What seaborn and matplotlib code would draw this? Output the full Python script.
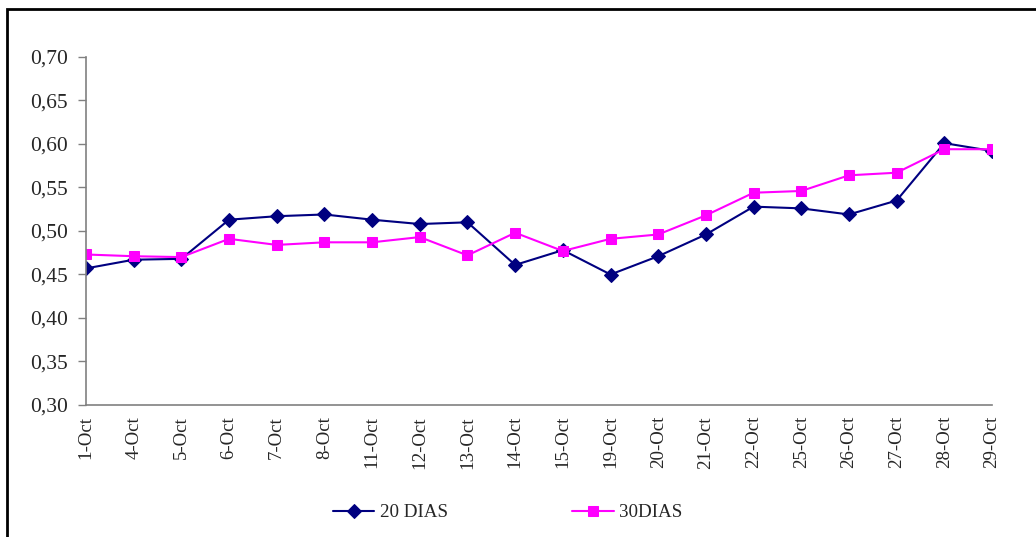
"""Line chart: 20 vs 30 day series, October."""

import matplotlib.pyplot as plt
import pandas as pd
import seaborn as sns
from matplotlib.patches import Rectangle
from matplotlib.ticker import FuncFormatter, MultipleLocator

dates = ["1-Oct", "4-Oct", "5-Oct", "6-Oct", "7-Oct", "8-Oct", "11-Oct", "12-Oct",
         "13-Oct", "14-Oct", "15-Oct", "19-Oct", "20-Oct", "21-Oct", "22-Oct",
         "25-Oct", "26-Oct", "27-Oct", "28-Oct", "29-Oct"]
dias_20 = [0.457, 0.467, 0.468, 0.513, 0.517, 0.519, 0.513, 0.508, 0.510, 0.461,
           0.478, 0.450, 0.471, 0.496, 0.528, 0.526, 0.519, 0.535, 0.601, 0.592]
dias_30 = [0.473, 0.471, 0.470, 0.491, 0.484, 0.487, 0.487, 0.493, 0.472, 0.498,
           0.477, 0.491, 0.496, 0.518, 0.544, 0.546, 0.564, 0.567, 0.594, 0.594]

df = pd.DataFrame({"fecha": dates, "20 DIAS": dias_20, "30DIAS": dias_30})
df["pos"] = range(len(df))

sns.set_theme(style="white")
plt.rcParams["font.family"] = ["Liberation Serif", "DejaVu Serif"]

fig = plt.figure(figsize=(10.36, 5.37), dpi=100)
ax = fig.add_axes([86 / 1036, 1 - 405 / 537, (992 - 86) / 1036, (405 - 57) / 537])

sns.lineplot(data=df, x="pos", y="20 DIAS", ax=ax, color="#000080", marker="D",
             markersize=7, markeredgecolor="#000080", linewidth=1.5, label="20 DIAS")
sns.lineplot(data=df, x="pos", y="30DIAS", ax=ax, color="#FF00FF", marker="s",
             markersize=7, markeredgecolor="#FF00FF", linewidth=1.5, label="30DIAS")

ax.set_xlim(0, len(dates) - 1)
ax.set_ylim(0.30, 0.70)
ax.yaxis.set_major_locator(MultipleLocator(0.05))
ax.yaxis.set_major_formatter(FuncFormatter(lambda v, _: f"{v:.2f}".replace(".", ",")))
ax.set_xticks(df["pos"])
ax.set_xticklabels(dates, rotation=90)
ax.set_xlabel("")
ax.set_ylabel("")

for side in ["top", "right"]:
    ax.spines[side].set_visible(False)
for side in ["left", "bottom"]:
    ax.spines[side].set_color("#808080")
    ax.spines[side].set_linewidth(1.2)

ax.tick_params(axis="y", which="major", direction="out", length=6, width=1,
               color="#808080", labelsize=15.5, pad=7, left=True)
ax.tick_params(axis="x", length=0, labelsize=13.6, pad=8)

handles, labels = ax.get_legend_handles_labels()
ax.get_legend().remove()
fig.legend(handles, labels, loc="center", bbox_to_anchor=(0.49, 0.045), ncol=2,
           frameon=False, fontsize=13.7, columnspacing=6.5, handlelength=2.2,
           handletextpad=0.3)

fig.add_artist(Rectangle((7 / 1036, -0.1), 1.2, 1.1 - 9 / 537, transform=fig.transFigure,
                         fill=False, edgecolor="black", linewidth=2))

fig.savefig("out.png", dpi=100)
